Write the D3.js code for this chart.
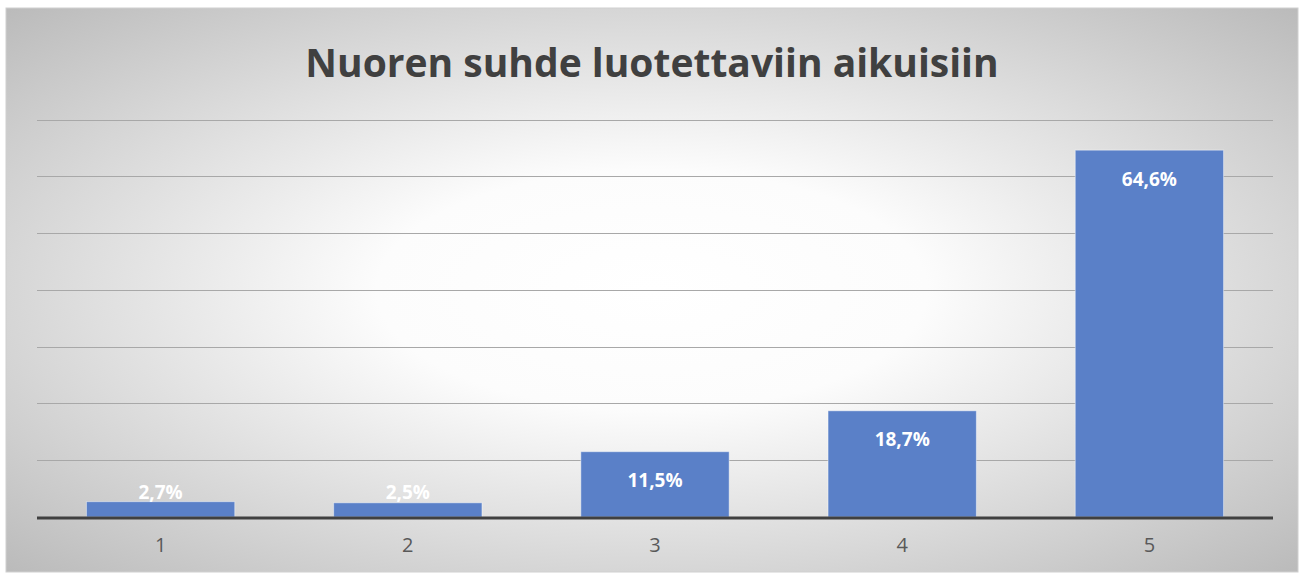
<!DOCTYPE html>
<html>
<head>
<meta charset="utf-8">
<script src="https://cdn.jsdelivr.net/npm/d3@7"></script>
<style>
  html, body { margin: 0; padding: 0; background: #fff; }
  svg { display: block; }
</style>
</head>
<body>
<div id="chart"></div>
<script>
// data
var categories = ["1", "2", "3", "4", "5"];
var values = [2.7, 2.5, 11.5, 18.7, 64.6];
var yTicks = [0, 10, 20, 30, 40, 50, 60, 70];
var title = "Nuoren suhde luotettaviin aikuisiin";

var W = 1304, H = 574;
var frame = { x: 6, y: 8, w: 1292, h: 564 };
var plot = { left: 37, right: 1273, top: 119.5, bottom: 517 };

var svg = d3.select("#chart").append("svg").attr("width", W).attr("height", H);

var defs = svg.append("defs");
var grad = defs.append("radialGradient").attr("id", "bg")
  .attr("cx", "50%").attr("cy", "50%").attr("r", "71%");
grad.append("stop").attr("offset", "0%").attr("stop-color", "#ffffff");
grad.append("stop").attr("offset", "30%").attr("stop-color", "#fcfcfc");
grad.append("stop").attr("offset", "100%").attr("stop-color", "#bababa");

svg.append("rect")
  .attr("x", frame.x).attr("y", frame.y).attr("width", frame.w).attr("height", frame.h)
  .attr("fill", "url(#bg)").attr("stroke", "#d0d0d0").attr("stroke-width", 1);

var x = d3.scaleBand().domain(categories).range([plot.left, plot.right]).paddingInner(0.4).paddingOuter(0.2);
var y = d3.scaleLinear().domain([0, 70]).range([plot.bottom, plot.top]);

// gridlines
svg.append("g").selectAll("line").data(yTicks.filter(function(t){ return t > 0; }))
  .enter().append("line")
  .attr("x1", plot.left).attr("x2", plot.right)
  .attr("y1", function(d){ return Math.round(y(d)) + 0.5; })
  .attr("y2", function(d){ return Math.round(y(d)) + 0.5; })
  .attr("stroke", "#a8a8a8").attr("stroke-width", 1);

// bars
svg.append("g").selectAll("rect").data(values).enter().append("rect")
  .attr("x", function(d, i){ return x(categories[i]); })
  .attr("y", function(d){ return y(d); })
  .attr("width", x.bandwidth())
  .attr("height", function(d){ return plot.bottom - y(d); })
  .attr("fill", "#5a80c8")
  .attr("stroke", "rgba(255,255,255,0.45)").attr("stroke-width", 1);

// baseline
svg.append("line")
  .attr("x1", plot.left).attr("x2", plot.right)
  .attr("y1", plot.bottom + 1).attr("y2", plot.bottom + 1)
  .attr("stroke", "#404040").attr("stroke-width", 3);

// category axis labels
var xAxis = svg.append("g").attr("transform", "translate(0," + (plot.bottom + 2) + ")")
  .call(d3.axisBottom(x).tickSize(0).tickPadding(19));
xAxis.select(".domain").remove();
xAxis.selectAll("text")
  .attr("font-family", "'Open Sans', sans-serif").attr("font-size", 20)
  .attr("fill", "#595959");

// data labels
svg.append("g").selectAll("text").data(values).enter().append("text")
  .attr("x", function(d, i){ return x(categories[i]) + x.bandwidth() / 2; })
  .attr("y", function(d){ return Math.min(y(d) + 29, plot.bottom - 25); })
  .attr("dy", "0.35em")
  .attr("text-anchor", "middle")
  .attr("font-family", "'Open Sans', sans-serif").attr("font-weight", 700).attr("font-size", 19)
  .attr("fill", "#ffffff")
  .text(function(d){ return d.toFixed(1).replace(".", ",") + "%"; });

// title
svg.append("text")
  .attr("x", frame.x + frame.w / 2).attr("y", 77)
  .attr("text-anchor", "middle")
  .attr("font-family", "'Open Sans', sans-serif").attr("font-weight", 700).attr("font-size", 39)
  .attr("fill", "#404040")
  .text(title);
</script>
</body>
</html>
